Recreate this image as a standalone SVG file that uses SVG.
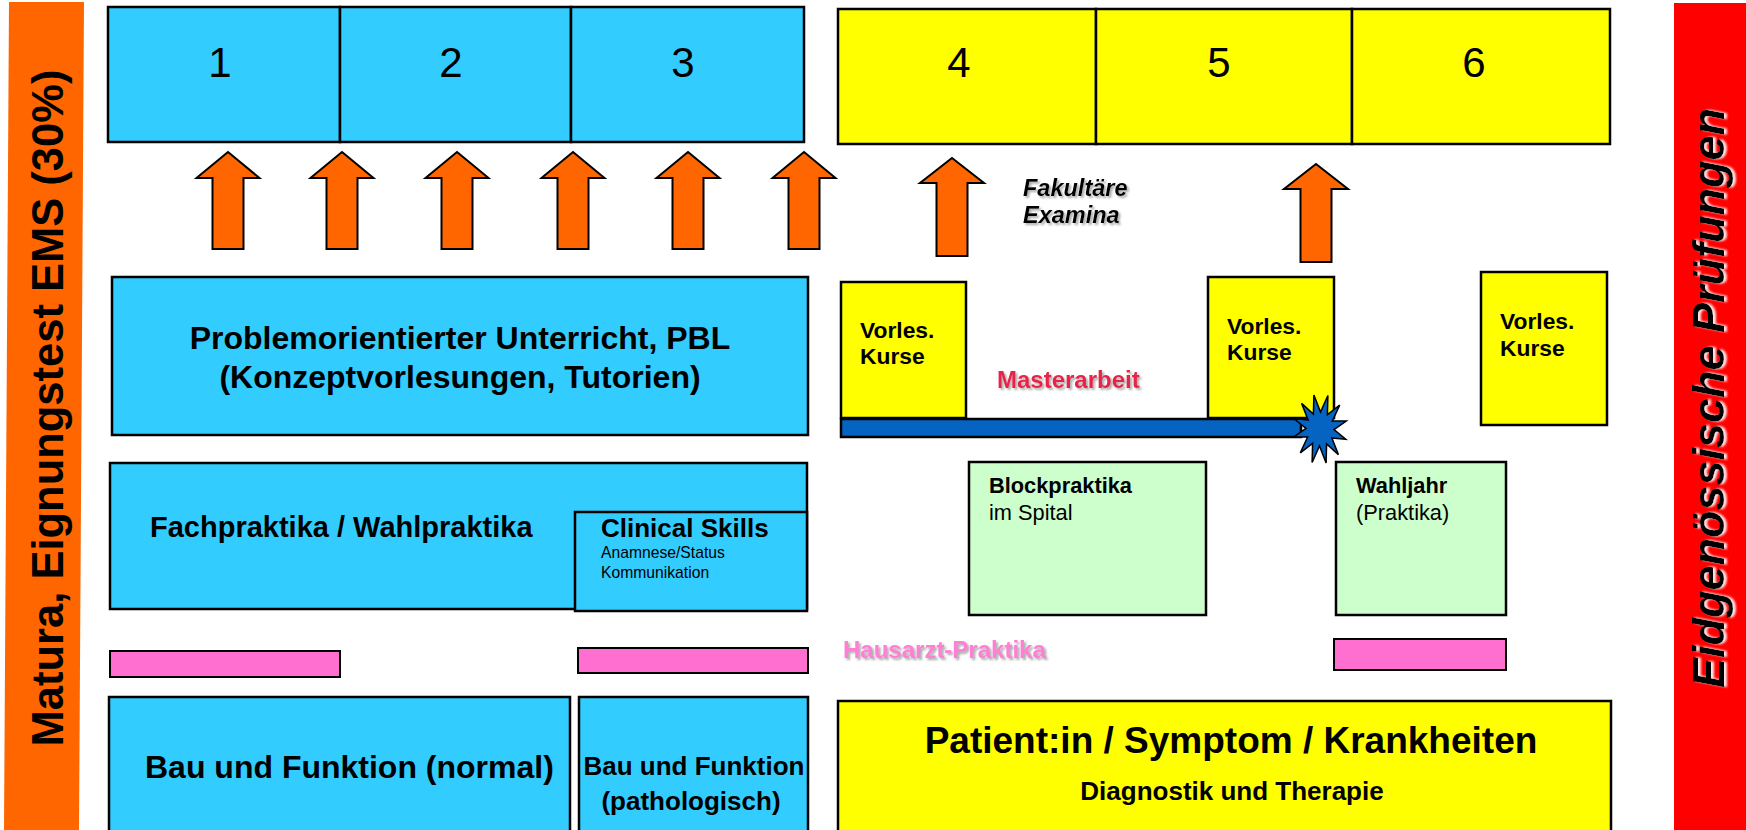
<svg xmlns="http://www.w3.org/2000/svg" width="1746" height="830" viewBox="0 0 1746 830">
<style>
text{font-family:"Liberation Sans",Arial,sans-serif;fill:#000}
.b{font-weight:bold}
.box{stroke:#000;stroke-width:2.5}
.blue{fill:#33CCFF}
.yel{fill:#FFFF00}
.grn{fill:#CCFFCC}
.pink{fill:#FF6FCF;stroke:#000;stroke-width:2}
.arr{fill:#FF6600;stroke:#000;stroke-width:2;stroke-linejoin:miter}
.num{font-size:42px;text-anchor:middle}
</style>
<defs>
<filter id="sh" x="-10%" y="-30%" width="130%" height="160%">
<feDropShadow dx="2" dy="2" stdDeviation="1.2" flood-color="#888" flood-opacity="0.7"/>
</filter>
<filter id="wsh" x="-10%" y="-30%" width="130%" height="160%">
<feDropShadow dx="0" dy="3" stdDeviation="1.2" flood-color="#fff" flood-opacity="0.9"/>
</filter>
</defs>
<rect width="1746" height="830" fill="#fff"/>

<g id="matura">
<polygon points="9,2 84,2 79,830 4,830" fill="#FF6600"/>
<text class="b" font-size="43.5" text-anchor="middle" transform="translate(63,408) rotate(-90)">Matura, Eignungstest EMS (30%)</text>
</g>

<g id="eidg">
<rect x="1674" y="3" width="72" height="827" fill="#FF0000"/>
<text class="b" font-size="45" font-style="italic" text-anchor="middle" filter="url(#wsh)" transform="translate(1724,398) rotate(-90)">Eidgenössische Prüfungen</text>
</g>

<g id="semester-1-3">
<rect class="box blue" x="108" y="7" width="232" height="135"/>
<rect class="box blue" x="340" y="7" width="231" height="135"/>
<rect class="box blue" x="571" y="7" width="233" height="135"/>
<text class="num" x="220" y="77">1</text>
<text class="num" x="451" y="77">2</text>
<text class="num" x="683" y="77">3</text>
</g>

<g id="semester-4-6">
<rect class="box yel" x="838" y="9" width="258" height="135"/>
<rect class="box yel" x="1096" y="9" width="256" height="135"/>
<rect class="box yel" x="1352" y="9" width="258" height="135"/>
<text class="num" x="959" y="77">4</text>
<text class="num" x="1219" y="77">5</text>
<text class="num" x="1474" y="77">6</text>
</g>

<g id="fakultaere">
<text class="b" font-size="23.5" font-style="italic" filter="url(#sh)"><tspan x="1023" y="196">Fakultäre</tspan><tspan x="1023" y="223">Examina</tspan></text>
</g>

<g id="pbl">
<rect class="box blue" x="112" y="277" width="696" height="158"/>
<text class="b" font-size="32" text-anchor="middle"><tspan x="460" y="349">Problemorientierter Unterricht, PBL</tspan><tspan x="460" y="388">(Konzeptvorlesungen, Tutorien)</tspan></text>
</g>

<g id="vorles-1">
<rect class="box yel" x="841" y="282" width="125" height="136"/>
<text class="b" font-size="22.8"><tspan x="860" y="338">Vorles.</tspan><tspan x="860" y="364">Kurse</tspan></text>
</g>
<g id="vorles-2">
<rect class="box yel" x="1208" y="277" width="126" height="141"/>
<text class="b" font-size="22.8"><tspan x="1227" y="334">Vorles.</tspan><tspan x="1227" y="360">Kurse</tspan></text>
</g>
<g id="vorles-3">
<rect class="box yel" x="1481" y="272" width="126" height="153"/>
<text class="b" font-size="22.8"><tspan x="1500" y="329">Vorles.</tspan><tspan x="1500" y="356">Kurse</tspan></text>
</g>

<g id="masterarbeit">
<rect x="841" y="419" width="460" height="18" fill="#0563C1" stroke="#000" stroke-width="2.5"/>
<polygon fill="#0563C1" stroke="#000" stroke-width="1.5" points="1327.9,395.5 1327.4,414.6 1339.7,405.1 1332.4,421 1346.3,421.1 1334,429.6 1345.8,439.2 1331.9,438 1338.4,454.6 1326.6,444 1326.1,463.1 1319.5,446 1312.1,462.5 1312.6,443.4 1300.3,452.9 1307.6,437 1293.7,436.9 1306,428.4 1294.2,418.8 1308.1,420 1301.6,403.4 1313.4,414 1313.9,394.9 1320.5,412"/>
<text class="b" font-size="24" x="997" y="388" filter="url(#sh)" style="fill:#E8234A">Masterarbeit</text>
</g>

<g id="fachpraktika">
<rect class="box blue" x="110" y="463" width="697" height="146"/>
<text class="b" font-size="29" x="150" y="537">Fachpraktika / Wahlpraktika</text>
</g>
<g id="clinical-skills">
<rect class="box blue" x="575" y="512" width="232" height="99"/>
<text class="b" font-size="26" x="601" y="537">Clinical Skills</text>
<text font-size="15.7"><tspan x="601" y="558">Anamnese/Status</tspan><tspan x="601" y="578">Kommunikation</tspan></text>
</g>

<g id="blockpraktika">
<rect class="box grn" x="969" y="462" width="237" height="153"/>
<text font-size="21.8"><tspan class="b" x="989" y="493">Blockpraktika</tspan><tspan x="989" y="520">im Spital</tspan></text>
</g>
<g id="wahljahr">
<rect class="box grn" x="1336" y="462" width="170" height="153"/>
<text font-size="21.8"><tspan class="b" x="1356" y="493">Wahljahr</tspan><tspan x="1356" y="520">(Praktika)</tspan></text>
</g>

<g id="hausarzt">
<rect class="pink" x="110" y="651" width="230" height="26"/>
<rect class="pink" x="578" y="648" width="230" height="25"/>
<rect class="pink" x="1334" y="639" width="172" height="31"/>
<text class="b" font-size="24" x="843" y="658" filter="url(#sh)" style="fill:#FF7FD4">Hausarzt-Praktika</text>
</g>

<g id="bau-normal">
<rect class="box blue" x="109" y="697" width="461" height="140"/>
<text class="b" font-size="32" x="145" y="778">Bau und Funktion (normal)</text>
</g>
<g id="bau-patho">
<rect class="box blue" x="579" y="697" width="229" height="140"/>
<text class="b" font-size="26" text-anchor="middle"><tspan x="694" y="775">Bau und Funktion</tspan><tspan x="691" y="810">(pathologisch)</tspan></text>
</g>

<g id="patient">
<rect class="box yel" x="838" y="701" width="773" height="140"/>
<text class="b" font-size="37" text-anchor="middle" x="1231" y="753">Patient:in / Symptom / Krankheiten</text>
<text class="b" font-size="26" text-anchor="middle" x="1232" y="800">Diagnostik und Therapie</text>
</g>

<g id="connectors">
<path class="arr" d="M228,152 L259.5,178 L243.5,178 L243.5,249 L212.5,249 L212.5,178 L196.5,178 Z"/>
<path class="arr" d="M342,152 L373.5,178 L357.5,178 L357.5,249 L326.5,249 L326.5,178 L310.5,178 Z"/>
<path class="arr" d="M457,152 L488.5,178 L472.5,178 L472.5,249 L441.5,249 L441.5,178 L425.5,178 Z"/>
<path class="arr" d="M573,152 L604.5,178 L588.5,178 L588.5,249 L557.5,249 L557.5,178 L541.5,178 Z"/>
<path class="arr" d="M688,152 L719.5,178 L703.5,178 L703.5,249 L672.5,249 L672.5,178 L656.5,178 Z"/>
<path class="arr" d="M804,152 L835.5,178 L819.5,178 L819.5,249 L788.5,249 L788.5,178 L772.5,178 Z"/>
<path class="arr" d="M952,158 L984,183 L967.5,183 L967.5,256 L936.5,256 L936.5,183 L920,183 Z"/>
<path class="arr" d="M1316,164 L1348,189 L1331.5,189 L1331.5,262 L1300.5,262 L1300.5,189 L1284,189 Z"/>
</g>
</svg>
